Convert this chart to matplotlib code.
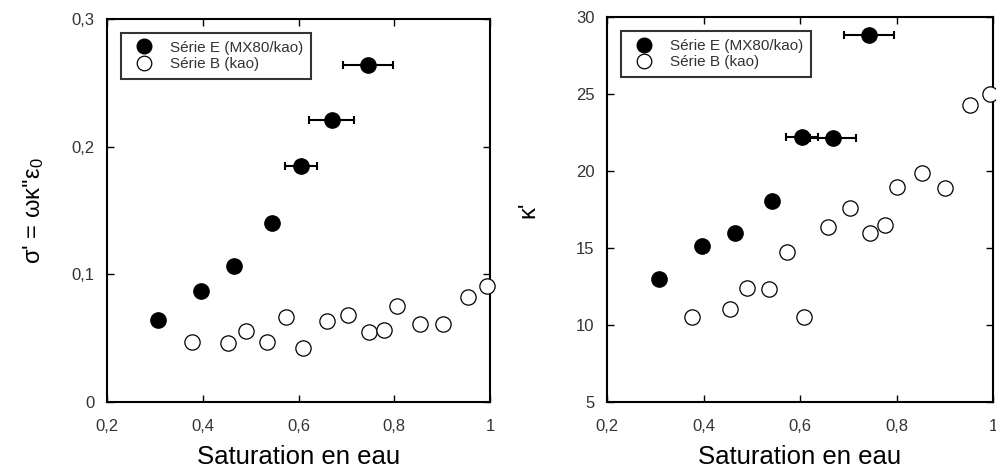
import matplotlib
matplotlib.use("Agg")
import matplotlib.pyplot as plt
from matplotlib.lines import Line2D
from matplotlib.ticker import FuncFormatter

plt.rcParams['font.family'] = ['Liberation Sans', 'DejaVu Sans']
plt.rcParams['mathtext.default'] = 'regular'

# Série E (MX80/kao)
sat_E = [0.307, 0.396, 0.466, 0.544, 0.605, 0.669, 0.745]
sat_E_err = [0.0, 0.0, 0.0, 0.008, 0.033, 0.047, 0.052]
sigma_E = [0.0645, 0.0868, 0.1064, 0.1403, 0.1848, 0.2208, 0.2640]

sat_E2 = [0.308, 0.396, 0.466, 0.543, 0.604, 0.668, 0.743]
sat_E2_err = [0.0, 0.0, 0.0, 0.008, 0.033, 0.048, 0.052]
kappa_E = [12.98, 15.13, 15.99, 18.03, 22.24, 22.13, 28.85]

# Série B (kao)
sat_B = [0.378, 0.453, 0.490, 0.535, 0.574, 0.609, 0.660, 0.704,
         0.748, 0.778, 0.805, 0.854, 0.901, 0.955, 0.994]
sat_B_err = [0, 0, 0, 0, 0, 0, 0, 0, 0, 0, 0, 0, 0, 0.012, 0.008]
sigma_B = [0.0470, 0.0463, 0.0557, 0.0470, 0.0666, 0.0426, 0.0635, 0.0679,
           0.0549, 0.0562, 0.0753, 0.0614, 0.0614, 0.0823, 0.0907]

sat_B2 = [0.377, 0.454, 0.490, 0.535, 0.574, 0.608, 0.659, 0.704,
          0.745, 0.776, 0.802, 0.852, 0.901, 0.953, 0.993]
sat_B2_err = [0, 0, 0, 0, 0, 0, 0, 0, 0, 0, 0, 0, 0, 0.012, 0.008]
kappa_B = [10.49, 11.07, 12.39, 12.35, 14.73, 10.53, 16.34, 17.60,
           16.00, 16.47, 18.94, 19.90, 18.88, 24.28, 25.00]

x_ticks = [0.2, 0.4, 0.6, 0.8, 1.0]
sigma_ticks = [0, 0.1, 0.2, 0.3]
kappa_ticks = [5, 10, 15, 20, 25, 30]
labels = ["Série E (MX80/kao)", "Série B (kao)"]


def comma(v, pos):
    s = f"{v:g}"
    return s.replace(".", ",")


def panel(ax, xe, xee, ye, xb, xbe, yb, yticks, ylim, ylabel, ylabelpad):
    e1 = ax.errorbar(xe, ye, xerr=xee, fmt='o', ms=11, mfc='black', mec='black',
                     ecolor='black', elinewidth=1.5, capsize=3, capthick=1.5,
                     zorder=3)
    e2 = ax.errorbar(xb, yb, xerr=xbe, fmt='o', ms=11, mfc='white', mec='black',
                     mew=0.9, ecolor='black', elinewidth=1.5, capsize=3, capthick=1.5,
                     zorder=3)
    for art in list(e1.get_children()) + list(e2.get_children()):
        art.set_clip_on(False)
    ax.set_xlim(0.2, 1.0)
    ax.set_ylim(*ylim)
    ax.set_xticks(x_ticks)
    ax.set_yticks(yticks)
    ax.xaxis.set_major_formatter(FuncFormatter(comma))
    ax.yaxis.set_major_formatter(FuncFormatter(comma))
    ax.tick_params(direction='in', top=True, right=True, length=5, width=1,
                   labelsize=12, labelcolor='#333333')
    ax.tick_params(axis='x', pad=12)
    ax.tick_params(axis='y', pad=9)
    for sp in ax.spines.values():
        sp.set_linewidth(1.5)
    ax.set_xlabel("Saturation en eau", fontsize=18.5, labelpad=8)
    ax.set_ylabel(ylabel, fontsize=17, labelpad=ylabelpad)
    handles = [
        Line2D([], [], ls='none', marker='o', ms=10.5, mfc='black', mec='black'),
        Line2D([], [], ls='none', marker='o', ms=10.5, mfc='white', mec='black', mew=0.9),
    ]
    leg = ax.legend(handles, labels, loc='upper left', bbox_to_anchor=(0.037, 0.963),
                    frameon=True, fancybox=False, fontsize=11,
                    handletextpad=0.7, borderpad=0.5, labelspacing=0.15,
                    handlelength=2.0, borderaxespad=0)
    leg.get_frame().set_edgecolor('black')
    leg.get_frame().set_linewidth(1.5)
    for t in leg.get_texts():
        t.set_color('#333333')


fig = plt.figure(figsize=(9.96, 4.71), dpi=100)
ax1 = fig.add_axes([107 / 996, 69 / 471, 383 / 996, 383 / 471])
ax2 = fig.add_axes([607 / 996, 69 / 471, 386 / 996, 385 / 471])

panel(ax1, sat_E, sat_E_err, sigma_E, sat_B, sat_B_err, sigma_B,
      sigma_ticks, (0, 0.3), "σ' = ωκ''ε$_0$", 18)
panel(ax2, sat_E2, sat_E2_err, kappa_E, sat_B2, sat_B2_err, kappa_B,
      kappa_ticks, (5, 30), "κ'", 26)

fig.savefig("out.png", dpi=100)
